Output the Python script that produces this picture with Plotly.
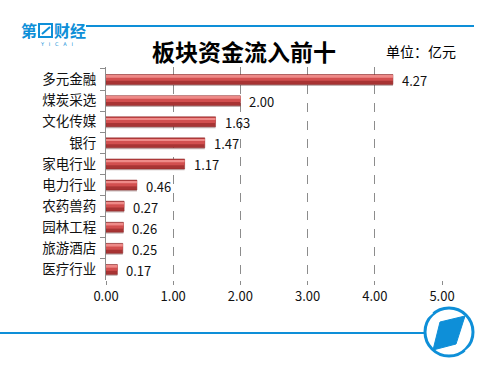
import plotly.graph_objects as go

categories = ["多元金融", "煤炭采选", "文化传媒", "银行", "家电行业",
              "电力行业", "农药兽药", "园林工程", "旅游酒店", "医疗行业"]
values = [4.27, 2.00, 1.63, 1.47, 1.17, 0.46, 0.27, 0.26, 0.25, 0.17]
x_ticks = [0, 1, 2, 3, 4, 5]
x_tick_labels = ["0.00", "1.00", "2.00", "3.00", "4.00", "5.00"]
title_text = "板块资金流入前十"
unit_text = "单位：亿元"

W, H = 500, 373
L, R, T, B = 106, 442, 67, 280
CJK = "Noto Sans CJK SC"
BLUE = "#0E8FD8"


def px(x):
    return (x - L) / (R - L)


def py(y):
    return (B - y) / (B - T)


fig = go.Figure()
bw = 0.47
# shadow
fig.add_trace(go.Bar(y=categories, x=values, orientation="h", width=0.1,
                     offset=bw / 2 - 0.03, marker=dict(color="rgba(90,40,40,0.35)", line=dict(width=0)),
                     hoverinfo="skip"))
# base (dark)
fig.add_trace(go.Bar(y=categories, x=values, orientation="h", width=bw, offset=-bw / 2,
                     marker=dict(color="#A83434", line=dict(color="#8E2B2B", width=0.5))))
# mid
fig.add_trace(go.Bar(y=categories, x=values, orientation="h", width=0.26, offset=-bw / 2 + 0.04,
                     marker=dict(color="#D24F4F", line=dict(width=0)), hoverinfo="skip"))
# highlight
fig.add_trace(go.Bar(y=categories, x=values, orientation="h", width=0.09, offset=-bw / 2 + 0.06,
                     marker=dict(color="#EE8A88", line=dict(width=0)), hoverinfo="skip"))

annotations = []
for c, v in zip(categories, values):
    annotations.append(dict(x=v, y=c, xref="x", yref="y", text=f"{v:.2f}", showarrow=False,
                            xanchor="left", xshift=7, yshift=-1,
                            font=dict(family=CJK, size=13, color="#111111")))

annotations += [
    dict(x=px(244), y=py(51), xref="paper", yref="paper", text=f"<b>{title_text}</b>",
         showarrow=False, xanchor="center", yanchor="middle",
         font=dict(family=CJK, size=23, color="#000000")),
    dict(x=px(421), y=py(51), xref="paper", yref="paper", text=unit_text,
         showarrow=False, xanchor="center", yanchor="middle",
         font=dict(family=CJK, size=14, color="#000000")),
    dict(x=px(29), y=py(30), xref="paper", yref="paper", text="<b>第</b>",
         showarrow=False, xanchor="center", yanchor="middle",
         font=dict(family=CJK, size=16, color=BLUE)),
    dict(x=px(70), y=py(30), xref="paper", yref="paper", text="<b>财经</b>",
         showarrow=False, xanchor="center", yanchor="middle",
         font=dict(family=CJK, size=16, color=BLUE)),
    dict(x=px(56), y=py(44), xref="paper", yref="paper", text="Y   I   C   A   I",
         showarrow=False, xanchor="center", yanchor="middle",
         font=dict(family="DejaVu Sans", size=5, color=BLUE)),
]

shapes = [
    # top blue rule
    dict(type="line", xref="paper", yref="paper", x0=px(86), x1=px(474), y0=py(26), y1=py(26),
         line=dict(color=BLUE, width=2)),
    # logo box
    dict(type="rect", xref="paper", yref="paper", x0=px(39), x1=px(52), y0=py(37), y1=py(24),
         line=dict(color=BLUE, width=2), fillcolor="white"),
    dict(type="line", xref="paper", yref="paper", x0=px(42), x1=px(50), y0=py(34), y1=py(27),
         line=dict(color=BLUE, width=2)),
    # bottom blue rule
    dict(type="line", xref="paper", yref="paper", x0=px(0), x1=px(426), y0=py(333), y1=py(333),
         line=dict(color=BLUE, width=2)),
    # circle logo
    dict(type="circle", xref="paper", yref="paper", x0=px(425), x1=px(473), y0=py(356), y1=py(308),
         line=dict(color=BLUE, width=3), fillcolor="white"),
    dict(type="path", xref="paper", yref="paper",
         path=f"M {px(440)} {py(322)} L {px(465)} {py(316)} L {px(456)} {py(344)} L {px(433)} {py(350)} Z",
         fillcolor=BLUE, line=dict(color=BLUE, width=1)),
    dict(type="line", xref="paper", yref="paper", x0=px(425), x1=px(432), y0=py(318), y1=py(312),
         line=dict(color="white", width=3)),
    dict(type="line", xref="paper", yref="paper", x0=px(466), x1=px(473), y0=py(352), y1=py(346),
         line=dict(color="white", width=3)),
]

fig.update_layout(
    width=W, height=H,
    margin=dict(l=L, r=W - R, t=T, b=H - B),
    paper_bgcolor="white", plot_bgcolor="white",
    barmode="overlay", showlegend=False,
    font=dict(family=CJK, size=13, color="#111111"),
    annotations=annotations, shapes=shapes,
    xaxis=dict(range=[0, 5], tickvals=x_ticks, ticktext=x_tick_labels,
               showgrid=True, gridcolor="#8C8C8C", griddash="dash", gridwidth=1,
               zeroline=False, showline=False, ticks="outside", ticklen=4,
               tickcolor="#8C8C8C", tickfont=dict(family=CJK, size=13, color="#111111"),
               fixedrange=True),
    yaxis=dict(type="category", autorange="reversed", showline=True, linecolor="#8C8C8C",
               linewidth=1, ticks="outside", tickson="boundaries", ticklen=5,
               tickcolor="#8C8C8C", showgrid=False, ticklabelstandoff=6,
               tickfont=dict(family=CJK, size=13.5, color="#111111"), fixedrange=True),
)

fig.write_html("out.html", config={"displayModeBar": False},
               post_script="document.body.style.margin='0';document.body.style.padding='0';"
                           "document.body.style.overflow='hidden';")
